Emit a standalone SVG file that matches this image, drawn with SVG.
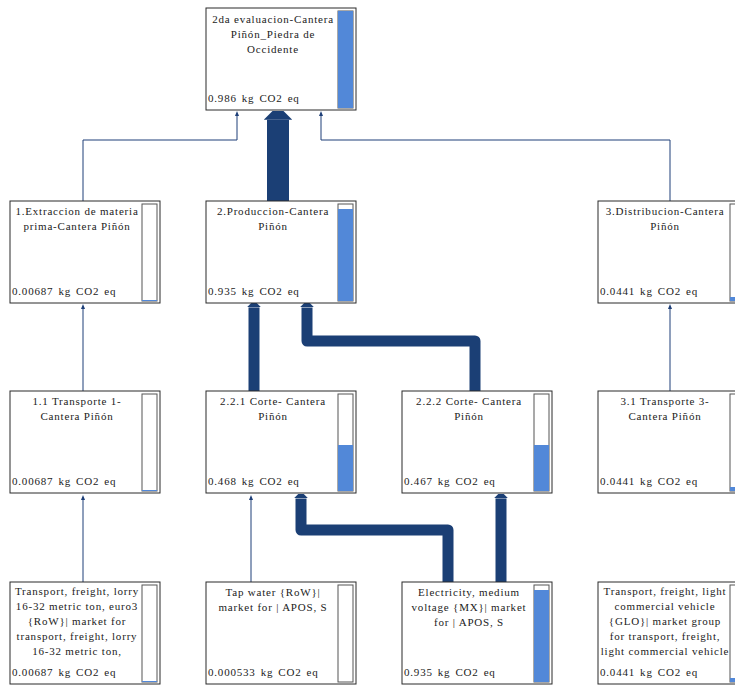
<svg xmlns="http://www.w3.org/2000/svg" width="735" height="686" viewBox="0 0 735 686">
<style>
.box{fill:#fff;stroke:#2a2a2a;stroke-width:1}
.bar{fill:#fff;stroke:#555;stroke-width:1}
.fill{fill:#5288d8}
.t{font-family:"Liberation Serif","Times New Roman",serif;font-size:11px;letter-spacing:0.8px;fill:#222}
.c{text-anchor:middle}
.v{word-spacing:1.5px}
.thin{fill:none;stroke:#1e3f78;stroke-width:1}
.thick{fill:none;stroke:#1b3f75;stroke-linejoin:round}
</style>
<defs>
<marker id="hd" viewBox="0 0 4 13" refX="0" refY="6.5" markerWidth="0.4" markerHeight="1.3" markerUnits="strokeWidth" orient="auto">
<path d="M0,0 L4,4 L4,9 L0,13 z" fill="#1b3f75"/>
</marker>
<marker id="hs" viewBox="0 0 5 4" refX="0" refY="2" markerWidth="5" markerHeight="4" markerUnits="userSpaceOnUse" orient="auto">
<path d="M0,0 L5,2 L0,4 z" fill="#1e3f78"/>
</marker>
</defs>
<rect width="735" height="686" fill="#fff"/>
<g id="connectors">
<path class="thin" d="M83,201 V140 H237 V116" marker-end="url(#hs)"/>
<path class="thin" d="M670,201 V140 H321 V116" marker-end="url(#hs)"/>
<path class="thin" d="M83,391 V309" marker-end="url(#hs)"/>
<path class="thin" d="M670,391 V309" marker-end="url(#hs)"/>
<path class="thin" d="M83,582 V500" marker-end="url(#hs)"/>
<path class="thin" d="M251,582 V500" marker-end="url(#hs)"/>
<path class="thick" stroke-width="22" d="M278,201 V119.8" marker-end="url(#hd)"/>
<path class="thick" stroke-width="11" d="M254,391 V307.4" marker-end="url(#hd)"/>
<path class="thick" stroke-width="11" d="M475,391 V341 H307 V307.4" marker-end="url(#hd)"/>
<path class="thick" stroke-width="11" d="M448,582 V530 H301 V498.4" marker-end="url(#hd)"/>
<path class="thick" stroke-width="11" d="M501,582 V498.4" marker-end="url(#hd)"/>
</g>
<g id="n_top">
<rect class="box" x="206" y="8" width="150" height="102"/>
<rect class="bar" x="338" y="11" width="15" height="97"/>
<rect class="fill" x="338" y="11" width="15" height="97"/>
<text class="t c" x="273" y="23">2da evaluacion-Cantera</text>
<text class="t c" x="273" y="38">Piñón_Piedra de</text>
<text class="t c" x="273" y="53">Occidente</text>
<text class="t v" x="208" y="102">0.986 kg CO2 eq</text>
</g>
<g id="n_extraccion">
<rect class="box" x="10" y="201" width="150" height="102"/>
<rect class="bar" x="142" y="204" width="15" height="97"/>
<rect class="fill" x="142" y="300" width="15" height="1"/>
<text class="t c" x="77" y="215">1.Extraccion de materia</text>
<text class="t c" x="77" y="230">prima-Cantera Piñón</text>
<text class="t v" x="12" y="295">0.00687 kg CO2 eq</text>
</g>
<g id="n_produccion">
<rect class="box" x="206" y="201" width="150" height="102"/>
<rect class="bar" x="338" y="204" width="15" height="97"/>
<rect class="fill" x="338" y="209" width="15" height="92"/>
<text class="t c" x="273" y="215">2.Produccion-Cantera</text>
<text class="t c" x="273" y="230">Piñón</text>
<text class="t v" x="208" y="295">0.935 kg CO2 eq</text>
</g>
<g id="n_distribucion">
<rect class="box" x="598" y="201" width="150" height="102"/>
<rect class="bar" x="730" y="204" width="15" height="97"/>
<rect class="fill" x="730" y="297" width="15" height="4"/>
<text class="t c" x="665" y="215">3.Distribucion-Cantera</text>
<text class="t c" x="665" y="230">Piñón</text>
<text class="t v" x="600" y="295">0.0441 kg CO2 eq</text>
</g>
<g id="n_transporte1">
<rect class="box" x="10" y="391" width="150" height="102"/>
<rect class="bar" x="142" y="394" width="15" height="97"/>
<rect class="fill" x="142" y="490" width="15" height="1"/>
<text class="t c" x="77" y="405">1.1 Transporte 1-</text>
<text class="t c" x="77" y="420">Cantera Piñón</text>
<text class="t v" x="12" y="485">0.00687 kg CO2 eq</text>
</g>
<g id="n_corte1">
<rect class="box" x="206" y="391" width="150" height="102"/>
<rect class="bar" x="338" y="394" width="15" height="97"/>
<rect class="fill" x="338" y="445" width="15" height="46"/>
<text class="t c" x="273" y="405">2.2.1 Corte- Cantera</text>
<text class="t c" x="273" y="420">Piñón</text>
<text class="t v" x="208" y="485">0.468 kg CO2 eq</text>
</g>
<g id="n_corte2">
<rect class="box" x="402" y="391" width="150" height="102"/>
<rect class="bar" x="534" y="394" width="15" height="97"/>
<rect class="fill" x="534" y="445" width="15" height="46"/>
<text class="t c" x="469" y="405">2.2.2 Corte- Cantera</text>
<text class="t c" x="469" y="420">Piñón</text>
<text class="t v" x="404" y="485">0.467 kg CO2 eq</text>
</g>
<g id="n_transporte3">
<rect class="box" x="598" y="391" width="150" height="102"/>
<rect class="bar" x="730" y="394" width="15" height="97"/>
<rect class="fill" x="730" y="487" width="15" height="4"/>
<text class="t c" x="665" y="405">3.1 Transporte 3-</text>
<text class="t c" x="665" y="420">Cantera Piñón</text>
<text class="t v" x="600" y="485">0.0441 kg CO2 eq</text>
</g>
<g id="n_lorry">
<rect class="box" x="10" y="582" width="150" height="102"/>
<rect class="bar" x="142" y="585" width="15" height="97"/>
<rect class="fill" x="142" y="681" width="15" height="1"/>
<text class="t c" x="77" y="595">Transport, freight, lorry</text>
<text class="t c" x="77" y="610">16-32 metric ton, euro3</text>
<text class="t c" x="77" y="625">{RoW}| market for</text>
<text class="t c" x="77" y="640">transport, freight, lorry</text>
<text class="t c" x="77" y="655">16-32 metric ton,</text>
<text class="t v" x="12" y="676">0.00687 kg CO2 eq</text>
</g>
<g id="n_tapwater">
<rect class="box" x="206" y="582" width="150" height="102"/>
<rect class="bar" x="338" y="585" width="15" height="97"/>
<text class="t c" x="273" y="596">Tap water {RoW}|</text>
<text class="t c" x="273" y="611">market for | APOS, S</text>
<text class="t v" x="208" y="676">0.000533 kg CO2 eq</text>
</g>
<g id="n_electricity">
<rect class="box" x="402" y="582" width="150" height="102"/>
<rect class="bar" x="534" y="585" width="15" height="97"/>
<rect class="fill" x="534" y="590" width="15" height="92"/>
<text class="t c" x="469" y="596">Electricity, medium</text>
<text class="t c" x="469" y="611">voltage {MX}| market</text>
<text class="t c" x="469" y="626">for | APOS, S</text>
<text class="t v" x="404" y="676">0.935 kg CO2 eq</text>
</g>
<g id="n_lightvehicle">
<rect class="box" x="598" y="582" width="150" height="102"/>
<rect class="bar" x="730" y="585" width="15" height="97"/>
<rect class="fill" x="730" y="678" width="15" height="4"/>
<text class="t c" x="665" y="595">Transport, freight, light</text>
<text class="t c" x="665" y="610">commercial vehicle</text>
<text class="t c" x="665" y="625">{GLO}| market group</text>
<text class="t c" x="665" y="640">for transport, freight,</text>
<text class="t c" x="665" y="655">light commercial vehicle</text>
<text class="t v" x="600" y="676">0.0441 kg CO2 eq</text>
</g>
</svg>
